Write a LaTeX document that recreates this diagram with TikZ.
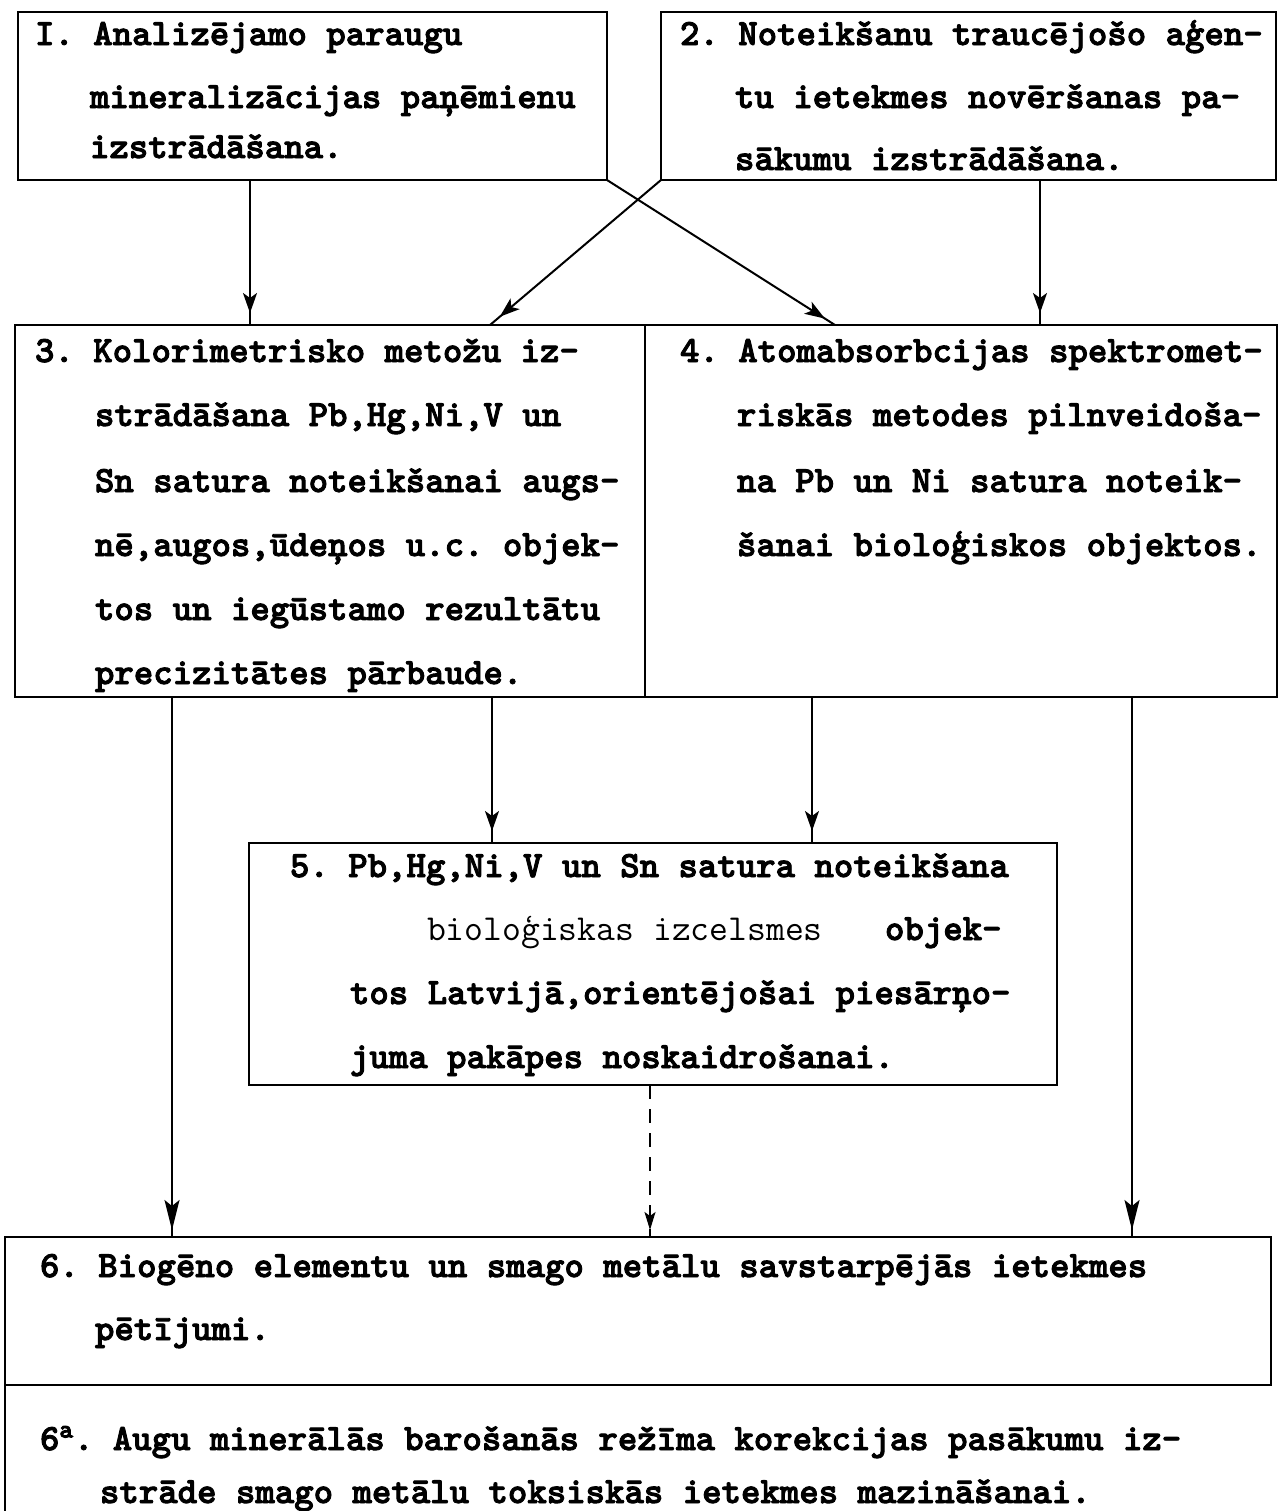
\documentclass[tikz,border=0pt]{standalone}
\usepackage{fontspec}
\usetikzlibrary{arrows.meta,decorations.markings}
\newcommand\heavytext[1]{\special{pdf:literal direct 2 Tr 0.45 w}#1\special{pdf:literal direct 0 Tr}}
\frenchspacing
\begin{document}
\begin{tikzpicture}[x=0.5pt,y=-0.5pt,
  box/.style={draw, line width=1.1pt, rectangle, anchor=north west, inner sep=0pt, outer sep=0pt},
  txt/.style={anchor=base west, inner sep=0pt, outer sep=0pt, font=\frenchspacing\ttfamily\bfseries\fontsize{18.5pt}{18.5pt}\selectfont, execute at begin node=\special{pdf:literal direct 2 Tr 0.45 w}, execute at end node=\special{pdf:literal direct 0 Tr}},
  lighttxt/.style={anchor=base west, inner sep=0pt, outer sep=0pt, font=\frenchspacing\ttfamily\mdseries\fontsize{18.3pt}{18.3pt}\selectfont},
  arrA/.style={line width=1pt, postaction={decorate}, decoration={markings, mark=at position -6pt with {\arrow{Stealth[length=10pt,width=7pt,inset=2.5pt]}}}},
  arrB/.style={line width=1pt, postaction={decorate}, decoration={markings, mark=at position -3.5pt with {\arrow{Stealth[length=15pt,width=7.5pt,inset=3pt]}}}},
  arrD/.style={line width=0.8pt, dash pattern=on 7pt off 5pt, postaction={decorate}, decoration={markings, mark=at position -3.5pt with {\arrow[solid]{Stealth[length=9pt,width=5.5pt,inset=2pt]}}}}
]
\useasboundingbox (0,0) rectangle (1279,1511);
\fill[white] (0,0) rectangle (1279,1511);

% boxes
\node[box, minimum width=294.5pt, minimum height=84pt] (b1) at (18,12) {};
\node[box, minimum width=307.5pt, minimum height=84pt] (b2) at (661,12) {};
\node[box, minimum width=315pt, minimum height=186pt] (b3) at (15,325) {};
\node[box, minimum width=316pt, minimum height=186pt] (b4) at (645,325) {};
\node[box, minimum width=404pt, minimum height=121pt] (b5) at (249,843) {};
\node[box, minimum width=633pt, minimum height=74pt] (b6) at (5,1237) {};
\node[anchor=north west, inner sep=0pt, outer sep=0pt, minimum width=633pt, minimum height=63pt] (b6a) at (5,1385) {};
\draw[line width=1.1pt] (b6a.north west) -- (b6a.south west);

% texts box 1
\node[txt] (t1a) at (35,45) {I. Analizējamo paraugu};
\node[txt] (t1b) at (90,108) {mineralizācijas paņēmienu};
\node[txt] (t1c) at (90,158) {izstrādāšana.};
% box 2
\node[txt] (t2a) at (680,45) {2. Noteikšanu traucējošo aģen-};
\node[txt] (t2b) at (735,108) {tu ietekmes novēršanas pa-};
\node[txt] (t2c) at (735,170) {sākumu izstrādāšana.};
% box 3
\node[txt] (t3a) at (35,362) {3. Kolorimetrisko metožu iz-};
\node[txt] (t3b) at (95,426) {strādāšana Pb,Hg,Ni,V un};
\node[txt] (t3c) at (95,492) {Sn satura noteikšanai augs-};
\node[txt] (t3d) at (95,556) {nē,augos,ūdeņos u.c. objek-};
\node[txt] (t3e) at (95,620) {tos un iegūstamo rezultātu};
\node[txt] (t3f) at (95,684) {precizitātes pārbaude.};
% box 4
\node[txt] (t4a) at (680,362) {4. Atomabsorbcijas spektromet-};
\node[txt] (t4b) at (737,426) {riskās metodes pilnveidoša-};
\node[txt] (t4c) at (737,492) {na Pb un Ni satura noteik-};
\node[txt] (t4d) at (737,556) {šanai bioloģiskos objektos.};
% box 5
\node[txt] (t5a) at (290,877) {5. Pb,Hg,Ni,V un Sn satura noteikšana};
\node[lighttxt] (t5b) at (427,940) {bioloģiskas izcelsmes};
\node[txt] (t5c) at (885,940) {objek-};
\node[txt] (t5d) at (350,1004) {tos Latvijā,orientējošai piesārņo-};
\node[txt] (t5e) at (350,1068) {juma pakāpes noskaidrošanai.};
% box 6
\node[txt] (t6a) at (40,1277) {6. Biogēno elementu un smago metālu savstarpējās ietekmes};
\node[txt] (t6b) at (95,1340) {pētījumi.};
\node[txt] (t6c) at (40,1450) {6\textsuperscript{a}. Augu minerālās barošanās režīma korekcijas pasākumu iz-};
\node[txt] (t6d) at (100,1503) {strāde smago metālu toksiskās ietekmes mazināšanai.};

% helper x positions
\coordinate (x250) at (250,0);
\coordinate (x1040) at (1040,0);
\coordinate (x835) at (835,0);
\coordinate (x490) at (490,0);
\coordinate (x172) at (172,0);
\coordinate (x492) at (492,0);
\coordinate (x812) at (812,0);
\coordinate (x1132) at (1132,0);
\coordinate (x650) at (650,0);

% connectors
\draw[arrA] (b1.south -| x250) -- (b3.north -| x250);
\draw[arrA] (b2.south -| x1040) -- (b4.north -| x1040);
\draw[arrA] (b1.south east) -- (b4.north -| x835);
\draw[arrA] (b2.south west) -- (b3.north -| x490);
\draw[arrB] (b3.south -| x172) -- (b6.north -| x172);
\draw[arrA] (b3.south -| x492) -- (b5.north -| x492);
\draw[arrA] (b4.south -| x812) -- (b5.north -| x812);
\draw[arrB] (b4.south -| x1132) -- (b6.north -| x1132);
\draw[arrD] (b5.south -| x650) -- (b6.north -| x650);
\end{tikzpicture}
\end{document}
